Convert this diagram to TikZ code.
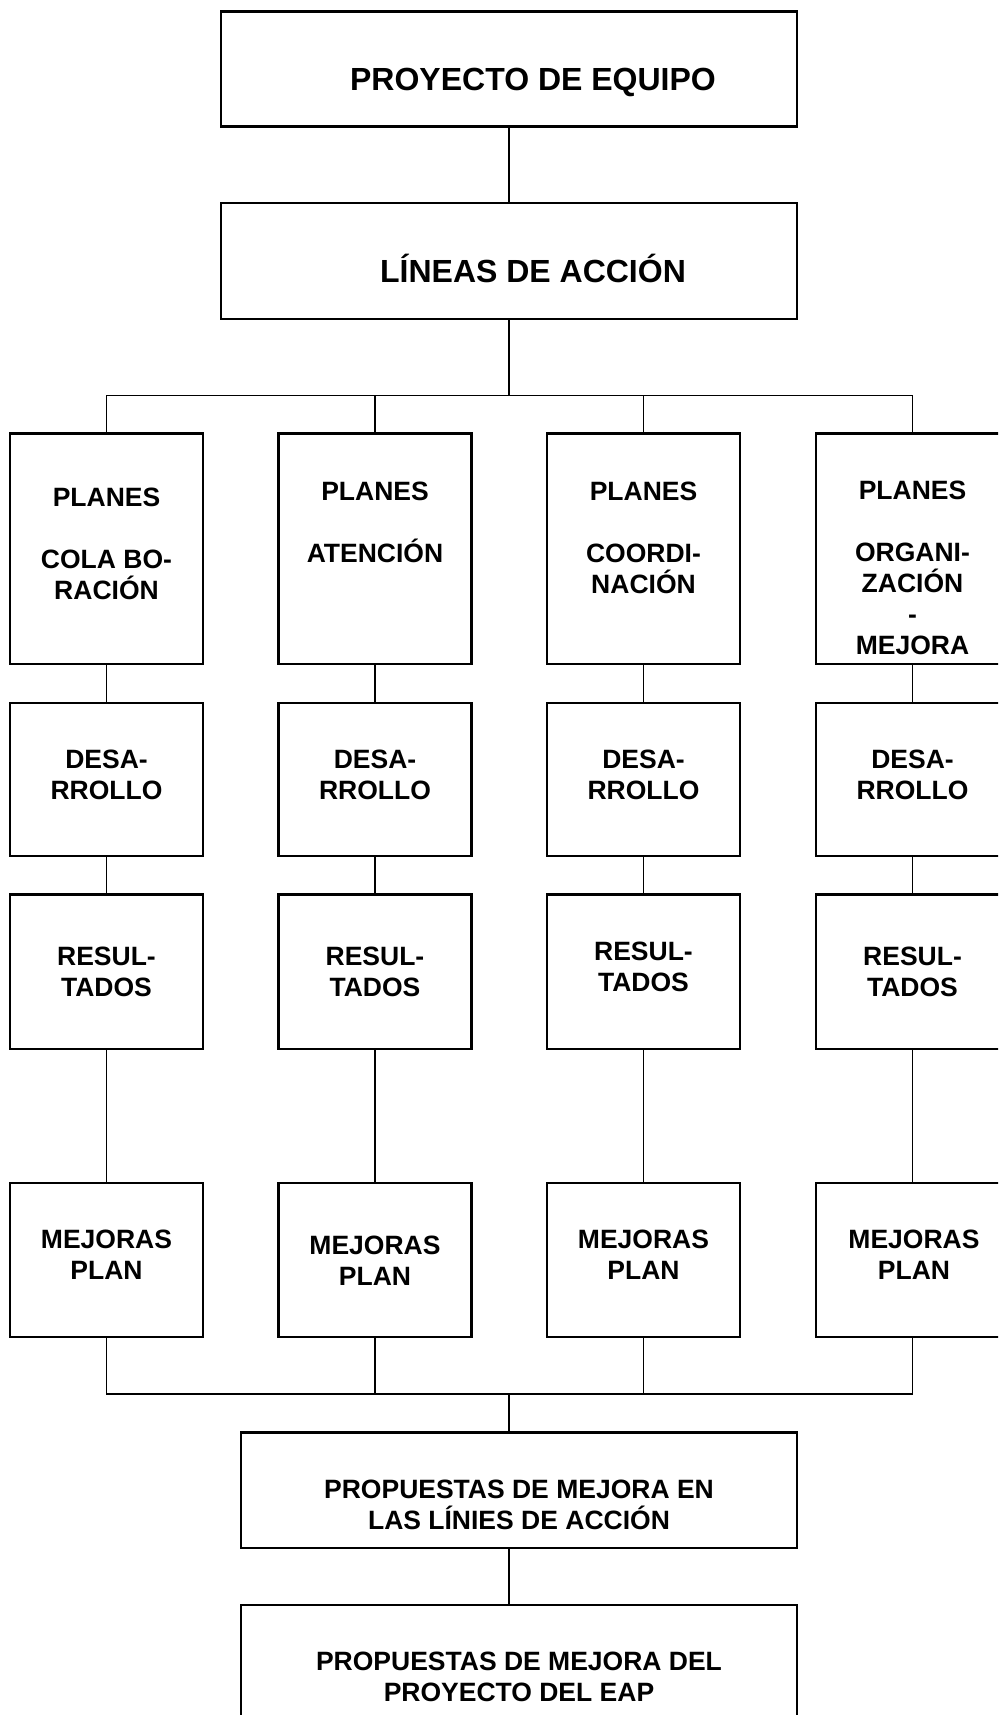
\documentclass[tikz,border=0pt]{standalone}
\usepackage{fontspec}
\setmainfont{Liberation Sans}
\begin{document}
\begin{tikzpicture}[x=1pt,y=-1pt,
  box/.style={draw, line width=2.2pt, rectangle, inner sep=0pt},
  colbox/.style={box, minimum width=193pt},
  wide/.style={box, minimum width=576pt, minimum height=115pt},
  prop/.style={box, minimum width=556pt, minimum height=115.5pt},
  % multi-line texts are placed by the baseline of their last line
  txt/.style={anchor=base, align=center, inner sep=0pt,
    font=\bfseries\fontsize{26.5}{31}\selectfont},
  bigtxt/.style={anchor=base, align=center, inner sep=0pt,
    font=\bfseries\fontsize{32}{37}\selectfont},
  link/.style={line width=1.4pt}]
\useasboundingbox (0,0) rectangle (998,1715);
\clip (0,0) rectangle (998,1715);

% top of the tree
\node[wide] (proy) at (509,69) {};
\node[bigtxt] (proyt) at (533,91) {PROYECTO DE EQUIPO};
\node[wide, minimum height=116pt] (lin) at (509,261) {};
\node[bigtxt] (lint) at (533,282) {LÍNEAS DE ACCIÓN};

% four columns of plans
\foreach \n/\cx in {1/106.5,2/375,3/643.5,4/912.5}{
  \node[colbox, minimum height=230.5pt] (p\n) at (\cx,548.75) {};
  \node[colbox, minimum height=153pt] (d\n) at (\cx,779.5) {};
  \node[colbox, minimum height=154.5pt] (r\n) at (\cx,971.75) {};
  \node[colbox, minimum height=154pt] (m\n) at (\cx,1260) {};
  \draw[link] (p\n.south) -- (d\n.north);
  \draw[link] (d\n.south) -- (r\n.north);
  \draw[link] (r\n.south) -- (m\n.north);
}

\node[txt] (p1t) at (106.5,599) {PLANES\\[31pt]COLA BO-\\RACIÓN};
\node[txt] (p2t) at (375,562.3) {PLANES\\[31pt]ATENCIÓN};
\node[txt] (p3t) at (643.5,593) {PLANES\\[31pt]COORDI-\\NACIÓN};
\node[txt] (p4t) at (912.5,654) {PLANES\\[31pt]ORGANI-\\ZACIÓN\\-\\MEJORA};

\node[txt] (d1t) at (106.5,799.3) {DESA-\\RROLLO};
\node[txt] (d2t) at (375,799.3) {DESA-\\RROLLO};
\node[txt] (d3t) at (643.5,799.3) {DESA-\\RROLLO};
\node[txt] (d4t) at (912.5,799.3) {DESA-\\RROLLO};

\node[txt] (r1t) at (106.5,996.7) {RESUL-\\TADOS};
\node[txt] (r2t) at (375,996.7) {RESUL-\\TADOS};
\node[txt] (r3t) at (643.5,991.7) {RESUL-\\TADOS};
\node[txt] (r4t) at (912.5,996.7) {RESUL-\\TADOS};

\node[txt] (m1t) at (106.5,1279.3) {MEJORAS\\PLAN};
\node[txt] (m2t) at (375,1285) {MEJORAS\\PLAN};
\node[txt] (m3t) at (643.5,1279.3) {MEJORAS\\PLAN};
\node[txt] (m4t) at (914,1279.3) {MEJORAS\\PLAN};

% proposals
\node[prop] (pr1) at (519,1490.25) {};
\node[txt] (pr1t) at (519,1529.3) {PROPUESTAS DE MEJORA EN\\LAS LÍNIES DE ACCIÓN};
\node[prop] (pr2) at (519,1662.75) {};
\node[txt] (pr2t) at (519,1701.7) {PROPUESTAS DE MEJORA DEL\\PROYECTO DEL EAP};

% connectors
\coordinate (busTop) at (509,395.5);
\coordinate (busBot) at (509,1394);
\draw[link] (proy.south) -- (lin.north);
\draw[link] (lin.south) -- (busTop);
\draw[link] (p1.north) |- (busTop) -| (p4.north);
\draw[link] (p2.north) -- (p2.north |- busTop);
\draw[link] (p3.north) -- (p3.north |- busTop);
\draw[link] (m1.south) |- (busBot) -| (m4.south);
\draw[link] (m2.south) -- (m2.south |- busBot);
\draw[link] (m3.south) -- (m3.south |- busBot);
\draw[link] (busBot) -- (busBot |- pr1.north);
\draw[link] (pr1.south -| busBot) -- (pr2.north -| busBot);
\end{tikzpicture}
\end{document}
